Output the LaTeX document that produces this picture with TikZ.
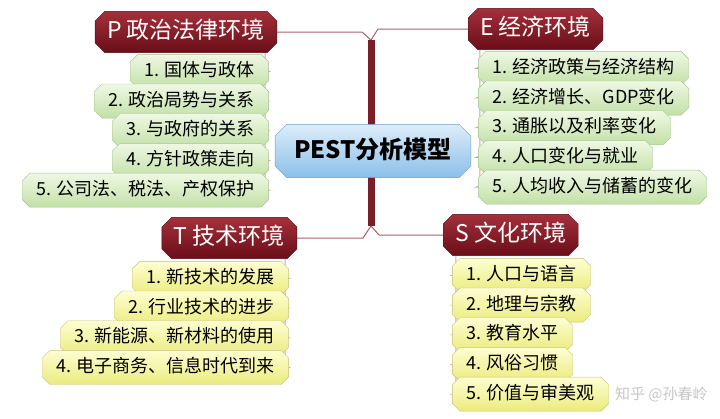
\documentclass[tikz,border=0pt]{standalone}
\usepackage{fontspec}
\setmainfont{Noto Sans CJK SC}
\usetikzlibrary{positioning,shapes.misc,backgrounds}
\definecolor{headtop}{HTML}{A3303B}
\definecolor{headbot}{HTML}{6A0E18}
\definecolor{headline}{HTML}{5A0C14}
\definecolor{greentop}{HTML}{EEF8E4}
\definecolor{greenbot}{HTML}{C2E0A6}
\definecolor{greenline}{HTML}{A3C28C}
\definecolor{yellowtop}{HTML}{FEFED2}
\definecolor{yellowbot}{HTML}{EBEB7E}
\definecolor{yellowline}{HTML}{C9C07C}
\definecolor{bluetop}{HTML}{DCEDFA}
\definecolor{bluebot}{HTML}{8CBFE8}
\definecolor{blueline}{HTML}{6F9CC8}
\definecolor{trunkred}{HTML}{7B1E27}
\definecolor{limbred}{HTML}{A8606A}
\definecolor{twigred}{HTML}{CFA4A9}
\tikzset{
  root/.style={chamfered rectangle,chamfered rectangle xsep=8pt,draw=blueline,
    top color=bluetop,bottom color=bluebot,font=\fontsize{24}{26}\selectfont\bfseries,
    text height=19pt,text depth=5pt,inner xsep=11pt,inner ysep=11pt},
  head/.style={chamfered rectangle,chamfered rectangle xsep=6pt,draw=headline,
    top color=headtop,bottom color=headbot,text=white,
    font=\fontsize{23}{25}\selectfont,text height=18pt,text depth=5pt,
    inner xsep=6pt,inner ysep=5.5pt},
  pitem/.style={chamfered rectangle,chamfered rectangle xsep=4pt,draw=greenline,
    top color=greentop,bottom color=greenbot,font=\fontsize{18}{20}\selectfont,
    text height=14pt,text depth=4pt,inner xsep=10pt,inner ysep=4.4pt},
  yitem/.style={pitem,draw=yellowline,top color=yellowtop,bottom color=yellowbot},
  trunk/.style={line width=7pt,trunkred},
  limb/.style={draw=limbred,line width=1pt},
  twig/.style={draw=twigred,line width=0.8pt,rounded corners=4pt},
}
\begin{document}
\begin{tikzpicture}[x=1pt,y=-1pt]
  \useasboundingbox (0,0) rectangle (720,418);
  \coordinate (top) at (371,40);
  \coordinate (bot) at (371,226);

  \node[root] (pest) at (373,151) {PEST分析模型};

  % P branch
  \node[head,anchor=east] (Ph) at (277,32) {P 政治法律环境};
  \node[pitem,anchor=north east] (p1) at (265,58) {1. 国体与政体};
  \node[pitem,below=3pt of p1.south east,anchor=north east] (p2) {2. 政治局势与关系};
  \node[pitem,below=3pt of p2.south east,anchor=north east] (p3) {3. 与政府的关系};
  \node[pitem,below=3pt of p3.south east,anchor=north east] (p4) {4. 方针政策走向};
  \node[pitem,below=3pt of p4.south east,anchor=north east] (p5) {5. 公司法、税法、产权保护};

  % E branch
  \node[head,anchor=west] (Eh) at (468,29) {E 经济环境};
  \node[pitem,anchor=north west] (e1) at (482,55) {1. 经济政策与经济结构};
  \node[pitem,below=3pt of e1.south west,anchor=north west] (e2) {2. 经济增长、GDP变化};
  \node[pitem,below=3pt of e2.south west,anchor=north west] (e3) {3. 通胀以及利率变化};
  \node[pitem,below=3pt of e3.south west,anchor=north west] (e4) {4. 人口变化与就业};
  \node[pitem,below=3pt of e4.south west,anchor=north west] (e5) {5. 人均收入与储蓄的变化};

  % T branch
  \node[head,anchor=east] (Th) at (297,238) {T 技术环境};
  \node[yitem,anchor=north east] (t1) at (285,265) {1. 新技术的发展};
  \node[yitem,below=3pt of t1.south east,anchor=north east] (t2) {2. 行业技术的进步};
  \node[yitem,below=3pt of t2.south east,anchor=north east] (t3) {3. 新能源、新材料的使用};
  \node[yitem,below=3pt of t3.south east,anchor=north east] (t4) {4. 电子商务、信息时代到来};

  % S branch
  \node[head,anchor=west] (Sh) at (443,235) {S 文化环境};
  \node[yitem,anchor=north west] (s1) at (456,262) {1. 人口与语言};
  \node[yitem,below=3pt of s1.south west,anchor=north west] (s2) {2. 地理与宗教};
  \node[yitem,below=3pt of s2.south west,anchor=north west] (s3) {3. 教育水平};
  \node[yitem,below=3pt of s3.south west,anchor=north west] (s4) {4. 风俗习惯};
  \node[yitem,below=3pt of s4.south west,anchor=north west] (s5) {5. 价值与审美观};

  \node[font=\fontsize{15}{17}\selectfont,text=gray,opacity=0.45,anchor=west,inner sep=0pt] (wm)
    at ([xshift=6pt]s5.east) {知乎 @孙春岭};

  \begin{scope}[on background layer]
    \draw[limb] (top) -- ++(-9,-8) -- (Ph.east);
    \draw[limb] (top) -- ++(7,-11) -- (Eh.west);
    \draw[limb] (bot) -- ++(-8,12) -- (Th.east);
    \draw[limb] (bot) -- ++(8,9) -- (Sh.west);
    \draw[trunk] (top) -- (bot);
    % spines with a short twig to every item
    \draw[twig] ([xshift=-7pt]Ph.south east) |- (p1.east) ([xshift=-7pt]Ph.south east) |- (p2.east)
      ([xshift=-7pt]Ph.south east) |- (p3.east) ([xshift=-7pt]Ph.south east) |- (p4.east)
      ([xshift=-7pt]Ph.south east) |- (p5.east);
    \draw[twig] ([xshift=7pt]Eh.south west) |- (e1.west) ([xshift=7pt]Eh.south west) |- (e2.west)
      ([xshift=7pt]Eh.south west) |- (e3.west) ([xshift=7pt]Eh.south west) |- (e4.west)
      ([xshift=7pt]Eh.south west) |- (e5.west);
    \draw[twig] ([xshift=-7pt]Th.south east) |- (t1.east) ([xshift=-7pt]Th.south east) |- (t2.east)
      ([xshift=-7pt]Th.south east) |- (t3.east) ([xshift=-7pt]Th.south east) |- (t4.east);
    \draw[twig] ([xshift=8pt]Sh.south west) |- (s1.west) ([xshift=8pt]Sh.south west) |- (s2.west)
      ([xshift=8pt]Sh.south west) |- (s3.west) ([xshift=8pt]Sh.south west) |- (s4.west)
      ([xshift=8pt]Sh.south west) |- (s5.west);
  \end{scope}
\end{tikzpicture}
\end{document}
